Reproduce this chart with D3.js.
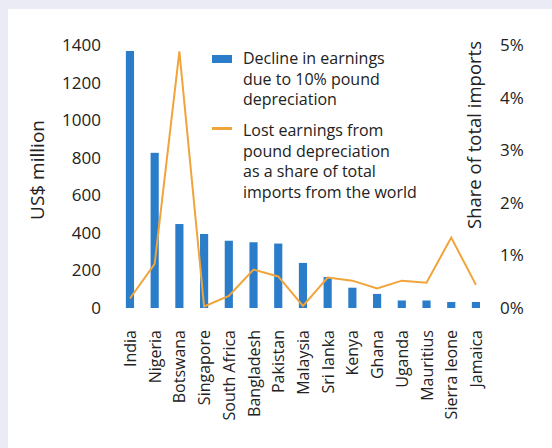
<!DOCTYPE html>
<html>
<head>
<meta charset="utf-8">
<script src="https://cdn.jsdelivr.net/npm/d3@7"></script>
<style>
  html, body { margin: 0; padding: 0; background: #ebebf6; }
  svg { display: block; }
  text { font-family: "Open Sans", sans-serif; fill: #222; }
</style>
</head>
<body>
<svg id="chart" width="552" height="448"></svg>
<script>
// Countries, ordered by decline in earnings
const countries = ["India", "Nigeria", "Botswana", "Singapore", "South Africa", "Bangladesh",
  "Pakistan", "Malaysia", "Sri lanka", "Kenya", "Ghana", "Uganda", "Mauritius", "Sierra leone", "Jamaica"];

// Decline in earnings due to 10% pound depreciation (US$ million)
const declineEarnings = [1368, 826, 447, 394, 358, 350, 343, 240, 165, 108, 75, 40, 40, 32, 32];

// Lost earnings as a share of total imports from the world (%)
const shareOfImports = [0.18, 0.84, 4.88, 0.03, 0.23, 0.73, 0.6, 0.04, 0.58, 0.52, 0.37, 0.52, 0.48, 1.34, 0.44];

const leftTicks = [0, 200, 400, 600, 800, 1000, 1200, 1400];
const rightTicks = [0, 1, 2, 3, 4, 5];

const legendBars = ["Decline in earnings", "due to 10% pound", "depreciation"];
const legendLine = ["Lost earnings from", "pound depreciation", "as a share of total", "imports from the world"];

const barColor = "#2b7dc9";
const lineColor = "#f0a43a";

const svg = d3.select("#chart");

// white panel
svg.append("rect").attr("x", 8).attr("y", 9).attr("width", 552).attr("height", 448).attr("fill", "#fff");

const x = d3.scaleBand().domain(countries).range([117.6, 488.3]).paddingInner(0.67).paddingOuter(0.335);
const yL = d3.scaleLinear().domain([0, 1400]).range([308, 45]);
const yR = d3.scaleLinear().domain([0, 5]).range([308, 45]);

// bars
svg.append("g").selectAll("rect").data(countries).join("rect")
  .attr("x", d => x(d))
  .attr("width", x.bandwidth())
  .attr("y", (d, i) => yL(declineEarnings[i]))
  .attr("height", (d, i) => yL(0) - yL(declineEarnings[i]))
  .attr("fill", barColor);

// share line
const line = d3.line()
  .x((d, i) => x(countries[i]) + x.bandwidth() / 2)
  .y(d => yR(d));
svg.append("path").datum(shareOfImports)
  .attr("d", line)
  .attr("fill", "none")
  .attr("stroke", lineColor)
  .attr("stroke-width", 2)
  .attr("stroke-linejoin", "miter");

// left axis
const axL = svg.append("g").attr("transform", "translate(101,0)")
  .call(d3.axisLeft(yL).tickValues(leftTicks).tickFormat(d3.format("d")).tickSize(0).tickPadding(0));
axL.select(".domain").remove();
axL.selectAll("text").style("font-family", "'Open Sans', sans-serif").style("font-size", "17px").attr("fill", "#222");

// right axis
const axR = svg.append("g").attr("transform", "translate(500,0)")
  .call(d3.axisRight(yR).tickValues(rightTicks).tickFormat(d => d + "%").tickSize(0).tickPadding(0));
axR.select(".domain").remove();
axR.selectAll("text").style("font-family", "'Open Sans', sans-serif").style("font-size", "17px").attr("fill", "#222");

// category labels
const axB = svg.append("g").attr("transform", "translate(0,308)")
  .call(d3.axisBottom(x).tickSize(0).tickPadding(0));
axB.select(".domain").remove();
axB.selectAll("text")
  .style("font-family", "'Open Sans', sans-serif").style("font-size", "16px").attr("fill", "#222")
  .attr("text-anchor", "end")
  .attr("dy", null)
  .attr("y", 0)
  .attr("transform", "translate(6,22) rotate(-90)");

// axis titles
svg.append("text")
  .attr("transform", "translate(44,170) rotate(-90)")
  .attr("text-anchor", "middle")
  .style("font-size", "19px")
  .text("US$ million");

svg.append("text")
  .attr("transform", "translate(481,135) rotate(-90)")
  .attr("text-anchor", "middle")
  .style("font-size", "18.5px")
  .text("Share of total imports");

// legend
const lg = svg.append("g");
lg.append("rect").attr("x", 212).attr("y", 55).attr("width", 20).attr("height", 8).attr("fill", barColor);
lg.append("line").attr("x1", 212).attr("x2", 232).attr("y1", 128.5).attr("y2", 128.5)
  .attr("stroke", lineColor).attr("stroke-width", 3);
lg.selectAll("text.b").data(legendBars).join("text").attr("class", "b")
  .attr("x", 243).attr("y", (d, i) => 64 + i * 20.5)
  .style("font-size", "16px").text(d => d);
lg.selectAll("text.l").data(legendLine).join("text").attr("class", "l")
  .attr("x", 243).attr("y", (d, i) => 136 + i * 20.7)
  .style("font-size", "16px").text(d => d);
</script>
</body>
</html>
